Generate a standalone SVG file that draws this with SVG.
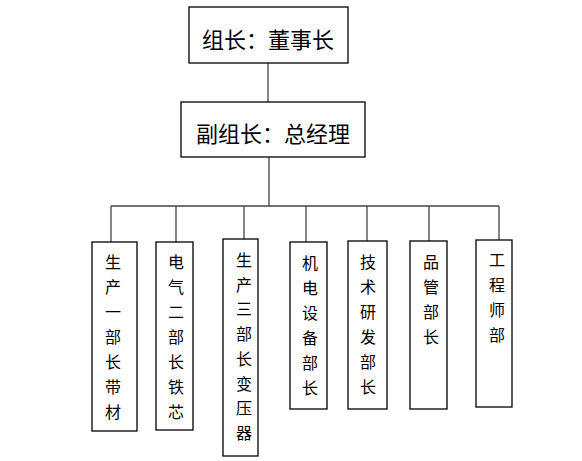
<svg xmlns="http://www.w3.org/2000/svg" width="582" height="461" viewBox="0 0 582 461">
<style>
.box{fill:#fff;stroke:#000;stroke-width:1.3}
.big{font-family:"Noto Sans CJK SC","Noto Sans CJK JP",sans-serif;font-size:22px;text-anchor:middle;fill:#000}
.v{font-family:"Noto Sans CJK SC","Noto Sans CJK JP",sans-serif;font-size:16px;text-anchor:middle;fill:#000}
.conn{stroke:#444;stroke-width:1.3;fill:none}
</style>
<rect width="582" height="461" fill="#fff"/>
<g id="connectors">
<line class="conn" x1="268" y1="63" x2="268" y2="102"/>
<line class="conn" x1="269" y1="157" x2="269" y2="206"/>
<line class="conn" x1="111" y1="206" x2="499" y2="206"/>
<line class="conn" x1="111" y1="206" x2="111" y2="242"/>
<line class="conn" x1="176" y1="206" x2="176" y2="242"/>
<line class="conn" x1="244" y1="206" x2="244" y2="239"/>
<line class="conn" x1="306" y1="206" x2="306" y2="242"/>
<line class="conn" x1="367" y1="206" x2="367" y2="241"/>
<line class="conn" x1="429" y1="206" x2="429" y2="241"/>
<line class="conn" x1="499" y1="206" x2="499" y2="240"/>
</g>
<g id="n-top">
<rect class="box" x="189" y="7" width="159" height="56"/>
<text class="big" x="268" y="48">组长：董事长</text>
</g>
<g id="n-vice">
<rect class="box" x="181" y="102" width="184" height="55"/>
<text class="big" x="273" y="142">副组长：总经理</text>
</g>
<g id="n1">
<rect class="box" x="92" y="242" width="45" height="189"/>
<text class="v" x="113" y="268">生<tspan x="113" dy="25">产</tspan><tspan x="113" dy="25">一</tspan><tspan x="113" dy="25">部</tspan><tspan x="113" dy="25">长</tspan><tspan x="113" dy="25">带</tspan><tspan x="113" dy="25">材</tspan></text>
</g>
<g id="n2">
<rect class="box" x="156" y="242" width="37" height="188"/>
<text class="v" x="176" y="268">电<tspan x="176" dy="25">气</tspan><tspan x="176" dy="25">二</tspan><tspan x="176" dy="25">部</tspan><tspan x="176" dy="25">长</tspan><tspan x="176" dy="25">铁</tspan><tspan x="176" dy="25">芯</tspan></text>
</g>
<g id="n3">
<rect class="box" x="223" y="239" width="35" height="217"/>
<text class="v" x="244" y="266">生<tspan x="244" dy="24.7">产</tspan><tspan x="244" dy="24.7">三</tspan><tspan x="244" dy="24.7">部</tspan><tspan x="244" dy="24.7">长</tspan><tspan x="244" dy="24.7">变</tspan><tspan x="244" dy="24.7">压</tspan><tspan x="244" dy="24.7">器</tspan></text>
</g>
<g id="n4">
<rect class="box" x="290" y="242" width="37" height="167"/>
<text class="v" x="310" y="269">机<tspan x="310" dy="25">电</tspan><tspan x="310" dy="25">设</tspan><tspan x="310" dy="25">备</tspan><tspan x="310" dy="25">部</tspan><tspan x="310" dy="25">长</tspan></text>
</g>
<g id="n5">
<rect class="box" x="348" y="241" width="39" height="168"/>
<text class="v" x="368" y="268">技<tspan x="368" dy="25">术</tspan><tspan x="368" dy="25">研</tspan><tspan x="368" dy="25">发</tspan><tspan x="368" dy="25">部</tspan><tspan x="368" dy="25">长</tspan></text>
</g>
<g id="n6">
<rect class="box" x="410" y="241" width="37" height="168"/>
<text class="v" x="431" y="268">品<tspan x="431" dy="25">管</tspan><tspan x="431" dy="25">部</tspan><tspan x="431" dy="25">长</tspan></text>
</g>
<g id="n7">
<rect class="box" x="476" y="240" width="36" height="167"/>
<text class="v" x="497" y="266">工<tspan x="497" dy="25">程</tspan><tspan x="497" dy="25">师</tspan><tspan x="497" dy="25">部</tspan></text>
</g>
</svg>
